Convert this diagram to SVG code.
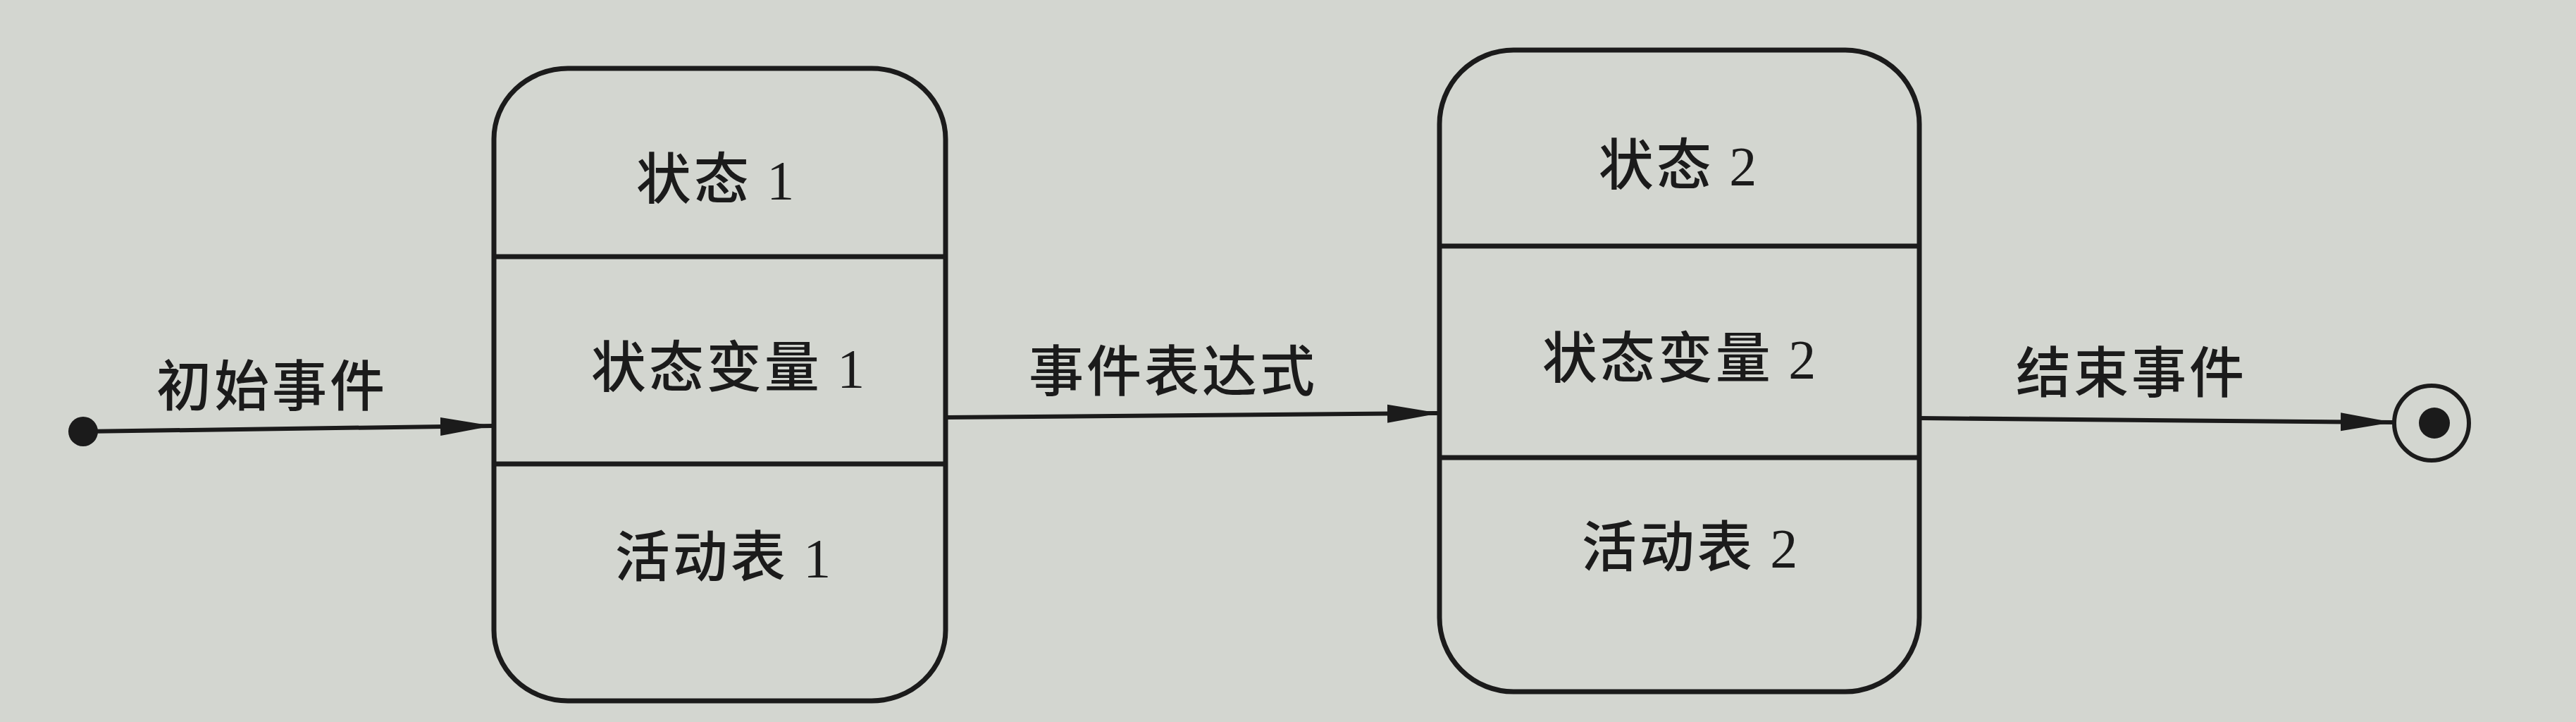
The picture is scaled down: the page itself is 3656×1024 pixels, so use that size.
<svg xmlns="http://www.w3.org/2000/svg" width="3656" height="1024" viewBox="0 0 3656 1024">
  <style>
    .box { fill: none; stroke: #1b1b1b; stroke-width: 7; }
    .div { stroke: #1b1b1b; stroke-width: 7; }
    .conn { stroke: #1b1b1b; stroke-width: 6; fill: none; }
    .lbl { font-family: "Noto Sans CJK SC", "Noto Sans", sans-serif; font-size: 78px; font-weight: 500; letter-spacing: 4px; fill: #1b1b1b; text-anchor: middle; }
    .num { font-family: "Liberation Serif", serif; font-weight: 400; }
  </style>
  <defs>
    <marker id="arrow" markerUnits="userSpaceOnUse" markerWidth="76" markerHeight="28" refX="74" refY="14" orient="auto">
      <path d="M0,1 L74,14 L0,27 z" fill="#1b1b1b"/>
    </marker>
  </defs>
  <rect x="0" y="0" width="3656" height="1024" fill="#d3d6d0"/>

  <g id="connectors">
    <line class="conn" x1="118" y1="612" x2="699" y2="604" marker-end="url(#arrow)"/>
    <line class="conn" x1="1342" y1="592" x2="2043" y2="586" marker-end="url(#arrow)"/>
    <line class="conn" x1="2724" y1="593" x2="3396" y2="599" marker-end="url(#arrow)"/>
    <text class="lbl" x="386" y="576">初始事件</text>
    <text class="lbl" x="1665" y="555">事件表达式</text>
    <text class="lbl" x="3025" y="557">结束事件</text>
  </g>

  <g id="initial">
    <circle cx="118" cy="612" r="21" fill="#1b1b1b"/>
  </g>

  <g id="state1">
    <rect class="box" x="701" y="97" width="641" height="897" rx="105" ry="100"/>
    <line class="div" x1="701" y1="364" x2="1342" y2="364"/>
    <line class="div" x1="701" y1="658" x2="1342" y2="658"/>
    <text class="lbl" x="1017" y="282">状态 <tspan class="num">1</tspan></text>
    <text class="lbl" x="1035" y="549">状态变量 <tspan class="num">1</tspan></text>
    <text class="lbl" x="1028" y="818">活动表 <tspan class="num">1</tspan></text>
  </g>

  <g id="state2">
    <rect class="box" x="2043" y="71" width="681" height="910" rx="105" ry="105"/>
    <line class="div" x1="2043" y1="349" x2="2724" y2="349"/>
    <line class="div" x1="2043" y1="649" x2="2724" y2="649"/>
    <text class="lbl" x="2383" y="262">状态 <tspan class="num">2</tspan></text>
    <text class="lbl" x="2385" y="536">状态变量 <tspan class="num">2</tspan></text>
    <text class="lbl" x="2400" y="804">活动表 <tspan class="num">2</tspan></text>
  </g>

  <g id="final">
    <circle cx="3451" cy="600" r="53" fill="none" stroke="#1b1b1b" stroke-width="6"/>
    <circle cx="3455" cy="600" r="22" fill="#1b1b1b"/>
  </g>
</svg>
